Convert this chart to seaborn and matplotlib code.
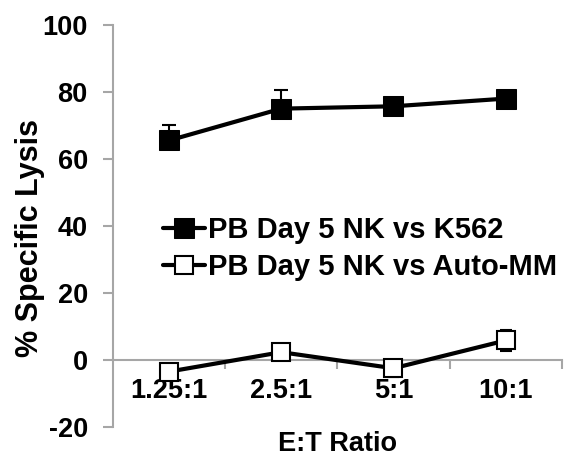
import pandas as pd
import matplotlib.pyplot as plt
import seaborn as sb

# E:T ratios and % specific lysis
ratios = ['1.25:1', '2.5:1', '5:1', '10:1']
k562 = [65.5, 75.0, 75.7, 78.0]
k562_err = [4.5, 5.5, 0.0, 0.0]
auto_mm = [-3.5, 2.3, -2.5, 5.8]
auto_mm_err = [1.5, 1.0, 2.5, 3.2]
y_ticks = [-20, 0, 20, 40, 60, 80, 100]

label_k562 = 'PB Day 5 NK vs K562'
label_mm = 'PB Day 5 NK vs Auto-MM'

sb.set_style('white')
plt.rcParams['font.family'] = ['Liberation Sans', 'DejaVu Sans']
plt.rcParams['font.weight'] = 'bold'
plt.rcParams['text.color'] = 'black'
plt.rcParams['xtick.color'] = 'black'
plt.rcParams['ytick.color'] = 'black'
plt.rcParams['axes.labelcolor'] = 'black'

fig = plt.figure(figsize=(5.67, 4.61), dpi=100)
ax = fig.add_axes([0.199, 0.074, 0.792, 0.872])

data = pd.DataFrame({'ratio': ratios * 2,
                     'lysis': k562 + auto_mm,
                     'series': [label_k562] * 4 + [label_mm] * 4})

# error bars first so the markers sit on top
ax.errorbar(range(4), k562, yerr=[[0] * 4, k562_err], fmt='none',
            ecolor='black', elinewidth=1.5, capsize=5, capthick=1.5, zorder=2)
ax.errorbar(range(4), auto_mm, yerr=auto_mm_err, fmt='none',
            ecolor='black', elinewidth=1.5, capsize=4, capthick=1.5, zorder=2)

sb.lineplot(data=data[data.series == label_k562], x='ratio', y='lysis',
            color='black', linewidth=3, marker='s', markersize=15,
            markerfacecolor='black', markeredgecolor='black',
            sort=False, label=label_k562, ax=ax, zorder=3)
sb.lineplot(data=data[data.series == label_mm], x='ratio', y='lysis',
            color='black', linewidth=3, marker='s', markersize=13,
            markerfacecolor='white', markeredgecolor='black', markeredgewidth=1.5,
            sort=False, label=label_mm, ax=ax, zorder=3)

ax.set_xlim(-0.5, 3.5)
ax.set_ylim(-20, 100)
ax.set_yticks(y_ticks)
ax.set_yticklabels([str(v) for v in y_ticks])  # plain hyphen for -20

# x axis sits at y = 0, ticks between the categories
ax.spines['bottom'].set_position(('data', 0))
ax.spines['top'].set_visible(False)
ax.spines['right'].set_visible(False)
for s in ['left', 'bottom']:
    ax.spines[s].set_color('#a6a6a6')
    ax.spines[s].set_linewidth(1.5)

ax.set_xticks(range(4))
ax.set_xticklabels(ratios)
ax.set_xticks([0.5, 1.5, 2.5, 3.5], minor=True)
ax.tick_params(axis='x', which='major', length=0, pad=13, labelsize=19.5)
ax.tick_params(axis='x', which='minor', length=6.5, width=1.5, color='#a6a6a6',
               direction='out', bottom=True)
ax.tick_params(axis='y', length=7, width=1.5, color='#a6a6a6', direction='out',
               left=True, labelsize=19.5, pad=11)

ax.set_xlabel('E:T Ratio', fontsize=19.5, fontweight='bold', va='center')
ax.xaxis.set_label_coords(0.5, -0.042)
ax.set_ylabel('% Specific Lysis', fontsize=22, fontweight='bold', va='center')
ax.yaxis.set_label_coords(-0.185, 0.47)

ax.legend(loc='center left', bbox_to_anchor=(0.111, 0.443), frameon=False,
          fontsize=21, handlelength=1.45, handletextpad=0.12, labelspacing=0.32,
          borderaxespad=0, borderpad=0)

plt.savefig('out.png', dpi=100)
